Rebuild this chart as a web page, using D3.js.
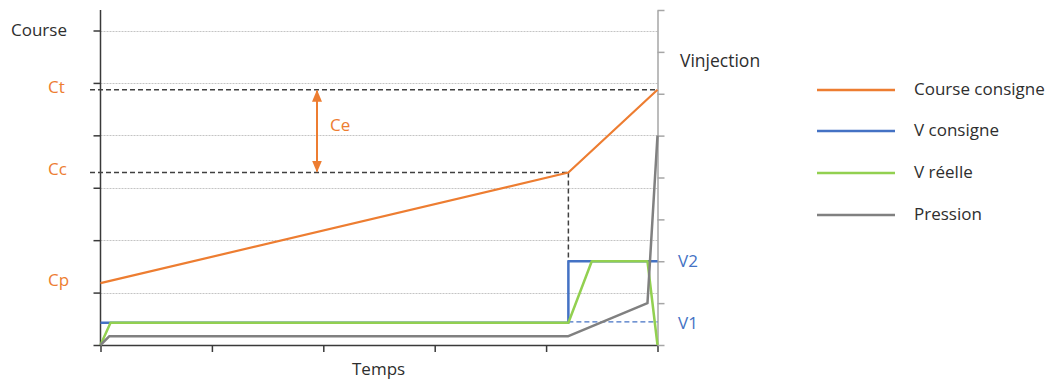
<!DOCTYPE html>
<html><head><meta charset="utf-8">
<script src="https://cdn.jsdelivr.net/npm/d3@7"></script>
<style>
html,body{margin:0;padding:0;background:#fff;}
text{font-family:"Open Sans",sans-serif;}
</style></head>
<body><svg id="c" width="1051" height="381"></svg>
<script>
// ---- data ----
const timeTicks = [0, 1, 2, 3, 4, 5];
const courseTicks = [0, 1, 2, 3, 4, 5, 6];
const vTicks = [0, 1, 2, 3, 4, 5, 6, 7, 8];

const courseT = [0, 4.2, 5];
const courseV = [1.18, 3.29, 4.87];

const vConsT = [0, 4.2, 4.2, 5];
const vConsV = [0.53, 0.53, 2.0, 2.0];

const vReelT = [0, 0.09, 4.2, 4.41, 4.91, 5];
const vReelV = [0, 0.53, 0.53, 2.0, 2.0, 0];

const pressT = [0, 0.08, 4.2, 4.91, 5];
const pressV = [0, 0.21, 0.21, 1.0, 5.0];

const courseLabelNames = ["Ct", "Cc", "Cp"];
const courseLabelValues = [4.87, 3.29, 1.18];
const vLabelNames = ["V2", "V1"];
const vLabelValues = [2.0, 0.53];
const switchTime = 4.2;
const legendNames = ["Course consigne", "V consigne", "V réelle", "Pression"];

const ORANGE = "#ED7D31", BLUE = "#4472C4", GREEN = "#92D050", GRAY = "#808080", TXT = "#2e2e2e";
const legendColors = [ORANGE, BLUE, GREEN, GRAY];

// ---- layout ----
const svg = d3.select("#c");
const x = d3.scaleLinear().domain([0, 5]).range([100.5, 657.5]);
const yC = d3.scaleLinear().domain([0, 6]).range([345, 30.5]);
const yV = d3.scaleLinear().domain([0, 8]).range([345, 10]);
const yCTop = 10;

// gridlines
svg.append("g").selectAll("line").data(courseTicks.filter(d => d > 0)).join("line")
  .attr("x1", x(0)).attr("x2", x(5))
  .attr("y1", d => Math.round(yC(d)) + 0.5).attr("y2", d => Math.round(yC(d)) + 0.5)
  .attr("stroke", "#c4c4c4").attr("stroke-width", 1).attr("stroke-dasharray", "2,1");

// axes
const axL = svg.append("g").attr("transform", `translate(${x(0)},0)`)
  .call(d3.axisLeft(yC).tickValues(courseTicks).tickFormat("").tickSize(7).tickSizeOuter(0));
axL.select(".domain").attr("d", `M0,${yCTop}V${yC(0)}`);
axL.selectAll("line,path").attr("stroke", "#3a3a3a").attr("stroke-width", 1.5);

const axB = svg.append("g").attr("transform", `translate(0,${yC(0)})`)
  .call(d3.axisBottom(x).tickValues(timeTicks).tickFormat("").tickSize(7).tickSizeOuter(0));
axB.selectAll("line,path").attr("stroke", "#3a3a3a").attr("stroke-width", 1.5);

const axR = svg.append("g").attr("transform", `translate(${x(5)},0)`)
  .call(d3.axisRight(yV).tickValues(vTicks).tickFormat("").tickSize(7).tickSizeOuter(0));
axR.selectAll("line,path").attr("stroke", "#a6a6a6").attr("stroke-width", 1.5);

// reference dashed lines
const ct = courseLabelValues[0], cc = courseLabelValues[1];
svg.append("line").attr("x1", 90).attr("x2", x(5)).attr("y1", yC(ct)).attr("y2", yC(ct))
  .attr("stroke", "#404040").attr("stroke-width", 1.5).attr("stroke-dasharray", "5,3");
svg.append("line").attr("x1", 90).attr("x2", x(switchTime)).attr("y1", yC(cc)).attr("y2", yC(cc))
  .attr("stroke", "#404040").attr("stroke-width", 1.5).attr("stroke-dasharray", "5,3");
svg.append("line").attr("x1", x(switchTime)).attr("x2", x(switchTime)).attr("y1", yC(cc)).attr("y2", yV(vLabelValues[0]))
  .attr("stroke", "#404040").attr("stroke-width", 1.5).attr("stroke-dasharray", "5,3");
svg.append("line").attr("x1", x(switchTime)).attr("x2", x(5)).attr("y1", yV(vLabelValues[1]) - 1).attr("y2", yV(vLabelValues[1]) - 1)
  .attr("stroke", BLUE).attr("stroke-width", 1.2).attr("stroke-dasharray", "5,3");

// Ce arrow
const defs = svg.append("defs");
defs.append("marker").attr("id", "ah").attr("viewBox", "0 0 12 10").attr("refX", 11).attr("refY", 5)
  .attr("markerWidth", 12).attr("markerHeight", 10).attr("markerUnits", "userSpaceOnUse").attr("orient", "auto-start-reverse")
  .append("path").attr("d", "M0,0L12,5L0,10Z").attr("fill", ORANGE);
const ax = 317;
svg.append("line").attr("x1", ax).attr("x2", ax).attr("y1", yC(ct) + 1).attr("y2", yC(cc) - 1)
  .attr("stroke", ORANGE).attr("stroke-width", 2)
  .attr("marker-start", "url(#ah)").attr("marker-end", "url(#ah)");
svg.append("text").attr("x", 330).attr("y", 125).attr("dy", "0.35em")
  .attr("fill", ORANGE).attr("font-size", 17).text("Ce");

// series
function drawSeries(ts, vs, ys, color, w) {
  const pts = ts.map((t, i) => [t, vs[i]]);
  svg.append("path").datum(pts)
    .attr("d", d3.line().x(d => x(d[0])).y(d => ys(d[1])))
    .attr("fill", "none").attr("stroke", color).attr("stroke-width", w).attr("stroke-linejoin", "round");
}
drawSeries(courseT, courseV, yC, ORANGE, 2.2);
drawSeries(vConsT, vConsV, yV, BLUE, 2.5);
drawSeries(vReelT, vReelV, yV, GREEN, 2.5);
drawSeries(pressT, pressV, yV, GRAY, 2.5);

// labels
svg.append("text").attr("x", 11).attr("y", 30).attr("dy", "0.35em").attr("fill", TXT).attr("font-size", 17).text("Course");
svg.append("text").attr("x", 680).attr("y", 61).attr("dy", "0.35em").attr("fill", TXT).attr("font-size", 17.5).text("Vinjection");
svg.append("text").attr("x", 352).attr("y", 369).attr("dy", "0.35em").attr("fill", TXT).attr("font-size", 17).text("Temps");

svg.append("g").selectAll("text").data(courseLabelNames).join("text")
  .attr("x", 48).attr("y", (d, i) => yC(courseLabelValues[i]) - 3).attr("dy", "0.35em")
  .attr("fill", ORANGE).attr("font-size", 17).text(d => d);
svg.append("g").selectAll("text").data(vLabelNames).join("text")
  .attr("x", 678).attr("y", (d, i) => yV(vLabelValues[i])).attr("dy", "0.35em")
  .attr("fill", BLUE).attr("font-size", 17).text(d => d);

// legend
const legY = [90, 131, 173, 215];
const lg = svg.append("g");
legendNames.forEach((n, i) => {
  lg.append("line").attr("x1", 817).attr("x2", 895).attr("y1", legY[i]).attr("y2", legY[i])
    .attr("stroke", legendColors[i]).attr("stroke-width", 2.5);
  lg.append("text").attr("x", 914).attr("y", legY[i] - 1).attr("dy", "0.35em")
    .attr("fill", TXT).attr("font-size", 17).text(n);
});
</script></body></html>
